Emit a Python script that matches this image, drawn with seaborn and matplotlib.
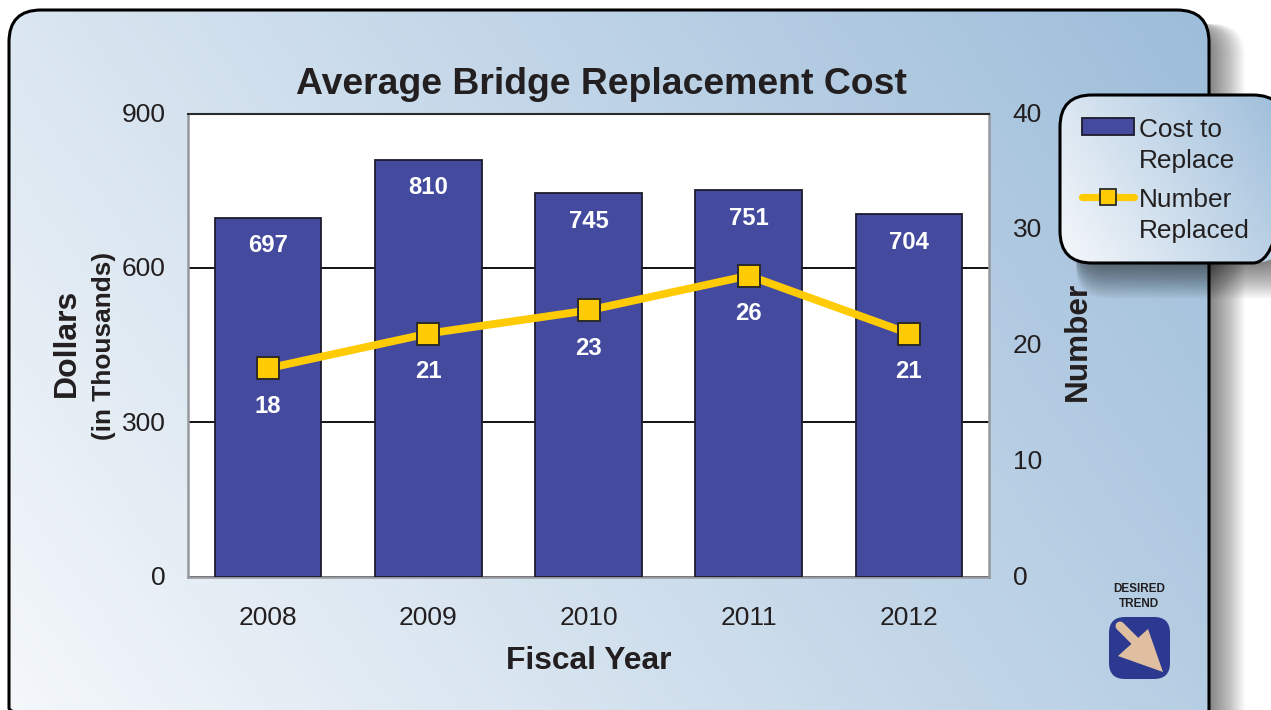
import numpy as np
import pandas as pd
import seaborn as sns
import matplotlib.pyplot as plt
from matplotlib.patches import FancyBboxPatch, Patch, Polygon
from matplotlib.lines import Line2D
from matplotlib.colors import LinearSegmentedColormap
from matplotlib.legend_handler import HandlerLine2D, HandlerPatch
from matplotlib.transforms import Affine2D

years = ["2008", "2009", "2010", "2011", "2012"]
cost = [697, 810, 745, 751, 704]
number = [18, 21, 23, 26, 21]
cost_ticks = [0, 300, 600, 900]
number_ticks = [0, 10, 20, 30, 40]

W, H = 1271, 710
BAR = "#444b9e"
LINE = "#ffcb05"
DARK = "#231f20"

sns.set_theme(style="white")
plt.rcParams["font.family"] = ["Liberation Sans", "DejaVu Sans"]

df = pd.DataFrame({"year": years, "cost": cost, "number": number})
fig = plt.figure(figsize=(W / 100, H / 100), dpi=100, facecolor="white")

# background layer, drawn in pixels
bg = fig.add_axes([0, 0, 1, 1], zorder=0)
bg.set_xlim(0, W)
bg.set_ylim(H, 0)
bg.axis("off")
grad = LinearSegmentedColormap.from_list("panel", ["#f5f8fb", "#9dbdda"])


def rounded(x0, y0, x1, y1, r, **kw):
    p = FancyBboxPatch((x0 + r, y0 + r), x1 - x0 - 2 * r, y1 - y0 - 2 * r,
                       boxstyle=f"round,pad={r},rounding_size={r}", **kw)
    bg.add_patch(p)
    return p


def gradient_box(x0, y0, x1, y1, r, zorder, shadow_left=0):
    # soft shadow first
    for w in range(36, 0, -1):
        rounded(x0 + shadow_left, y0 + 14, x1 + w, y1 + w, r, fc="black", ec="none",
                alpha=0.017, zorder=zorder)
    xx, yy = np.meshgrid(np.linspace(0, 1, 200), np.linspace(0, 1, 200))
    img = bg.imshow(0.7 * xx + 0.3 * (1 - yy), cmap=grad, vmin=0, vmax=1,
                    extent=(x0, x1, y1, y0), aspect="auto", zorder=zorder + 1)
    edge = rounded(x0, y0, x1, y1, r, fc="none", ec="black", lw=2.2, zorder=zorder + 2)
    img.set_clip_path(edge)


gradient_box(9, 10, 1209, 740, 32, 1)
gradient_box(1060, 95, 1285, 263, 32, 4, shadow_left=16)
bg.set_xlim(0, W)
bg.set_ylim(H, 0)

# desired trend icon
bg.text(1139, 589, "DESIRED", ha="center", va="center", fontsize=8.5,
        fontweight="bold", color=DARK, zorder=5)
bg.text(1139, 604, "TREND", ha="center", va="center", fontsize=8.5,
        fontweight="bold", color=DARK, zorder=5)
rounded(1109, 617, 1170, 679, 16, fc="#2b3990", ec="none", zorder=5)
bg.plot([1120, 1146], [626, 652], color="#e0bfa0", lw=6.5,
        solid_capstyle="round", zorder=6)
bg.add_patch(Polygon([(1148, 629), (1163, 672), (1118, 656)], fc="#e0bfa0",
                     ec="none", zorder=6))

# main axes
ax = fig.add_axes([188 / W, 1 - 576.7 / H, (989 - 188) / W, (576.7 - 113.5) / H], zorder=2)
ax.set_facecolor("white")
sns.barplot(data=df, x="year", y="cost", color=BAR, width=0.665, saturation=1,
            edgecolor="#1c1c2c", linewidth=1.3, ax=ax, zorder=3)
ax.set_ylim(0, 900)
ax.set_xlim(-0.5, 4.5)
ax.set_yticks(cost_ticks)
ax.set_axisbelow(True)
ax.yaxis.grid(True, color="black", lw=1.3)
ax.xaxis.grid(False)
ax.tick_params(axis="y", length=0, pad=16, labelsize=19, labelcolor=DARK)
ax.tick_params(axis="x", length=0, pad=21, labelsize=19, labelcolor=DARK)
ax.set_xlabel("")
ax.set_ylabel("")
for s in ["left", "bottom", "right"]:
    ax.spines[s].set_color("#96989e")
    ax.spines[s].set_linewidth(1.8)
ax.spines["top"].set_color("#2a2a2a")
ax.spines["top"].set_linewidth(1.5)

ax2 = ax.twinx()
ax2.set_zorder(3)
sns.lineplot(data=df, x="year", y="number", color=LINE, lw=5.6, marker="s",
             markersize=15.5, markerfacecolor=LINE, markeredgecolor="#2a2a2a",
             markeredgewidth=1.4, ax=ax2)
ax2.set_xlim(-0.5, 4.5)
ax2.set_ylim(0, 40)
ax2.set_yticks(number_ticks)
ax2.tick_params(axis="y", length=0, pad=17, labelsize=19, labelcolor=DARK)
ax2.set_xlabel("")
ax2.set_ylabel("")
for s in ax2.spines.values():
    s.set_visible(False)

# y tick labels sit a touch higher than the tick position
for t in ax.get_yticklabels():
    t.set_transform(t.get_transform() + Affine2D().translate(0, 1))
for t in ax2.get_yticklabels():
    t.set_transform(t.get_transform() + Affine2D().translate(0, 1.5))

for i, (c, n) in enumerate(zip(cost, number)):
    ax.annotate(str(c), (i, c), xytext=(0, -28 * 0.72), textcoords="offset points",
                ha="center", va="center", color="white", fontsize=17.2, fontweight="bold",
                zorder=5)
    ax2.annotate(str(n), (i, n), xytext=(0, -38 * 0.72), textcoords="offset points",
                 ha="center", va="center", color="white", fontsize=17.2, fontweight="bold")

# titles and axis labels
fig.text(601 / W, 1 - 84 / H, "Average Bridge Replacement Cost", ha="center", va="center",
         fontsize=26.9, fontweight="bold", color=DARK, zorder=6)
fig.text(589 / W, 1 - 661 / H, "Fiscal Year", ha="center", va="center",
         fontsize=22.9, fontweight="bold", color=DARK, zorder=6)
fig.text(67 / W, 1 - 343 / H, "Dollars", rotation=90, ha="center", va="center",
         fontsize=23, fontweight="bold", color=DARK, zorder=6)
fig.text(104 / W, 1 - 346 / H, "(in Thousands)", rotation=90, ha="center", va="center",
         fontsize=18.9, fontweight="bold", color=DARK, zorder=6)
fig.text(1078 / W, 1 - 341 / H, "Number", rotation=90, ha="center", va="center",
         fontsize=22.7, fontweight="bold", color=DARK, zorder=6)

# legend keys line up with the first row of each two-row label
KEY_SHIFT = 14


class RaisedPatch(HandlerPatch):
    def create_artists(self, legend, orig, xd, yd, w, h, fs, trans):
        return super().create_artists(legend, orig, xd, yd, w, h, fs,
                                      Affine2D().translate(0, KEY_SHIFT) + trans)


class RaisedLine(HandlerLine2D):
    def create_artists(self, legend, orig, xd, yd, w, h, fs, trans):
        return super().create_artists(legend, orig, xd, yd, w, h, fs,
                                      Affine2D().translate(0, KEY_SHIFT) + trans)


handles = [
    Patch(fc=BAR, ec="#1c1c2c", lw=1.3),
    Line2D([], [], color=LINE, lw=5.2, marker="s", markersize=12, markerfacecolor=LINE,
           markeredgecolor="#2a2a2a", markeredgewidth=1.3),
]
leg = fig.legend(handles, ["Cost to\nReplace", "Number\nReplaced"], loc="upper left",
                 bbox_to_anchor=(1082 / W, 1 - 118 / H), frameon=False, fontsize=18.9,
                 handlelength=1.97, handletextpad=0.2, labelspacing=0.58, borderpad=0,
                 borderaxespad=0, labelcolor=DARK, handleheight=0.6,
                 handler_map={Patch: RaisedPatch(), Line2D: RaisedLine()})
for t in leg.get_texts():
    t.set_linespacing(1.37)

fig.savefig("out.png", dpi=100)
